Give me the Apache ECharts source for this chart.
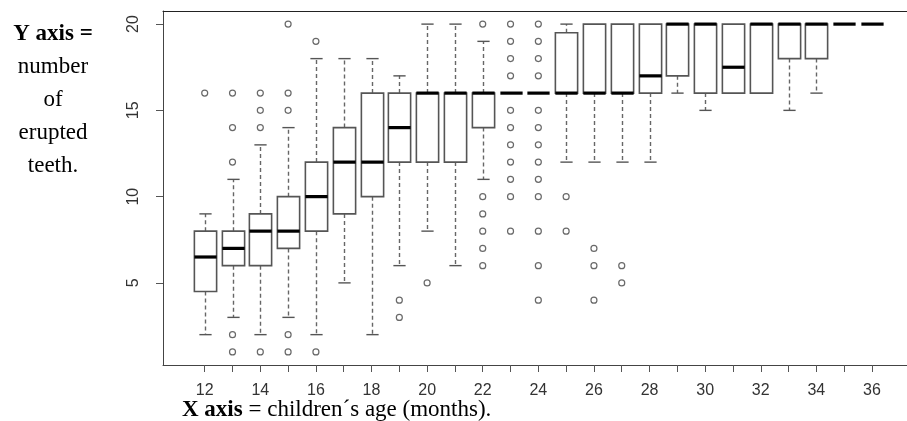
<!DOCTYPE html>
<html>
<head>
<meta charset="utf-8">
<script src="https://cdn.jsdelivr.net/npm/echarts@6/dist/echarts.min.js"></script>
<style>
html,body{margin:0;padding:0;background:#fff;}
#chart{width:907px;height:421px;}
</style>
</head>
<body>
<div id="chart"></div>
<script>
// ---- data ----
const ages = [12,13,14,15,16,17,18,19,20,21,22,23,24,25,26,27,28,29,30,31,32,33,34,35,36];
const whiskerLow  = [2,3,2,3,2,5,2,6,8,6,11,16,16,12,12,12,12,16,15,16,16,15,16,20,20];
const q1          = [4.5,6,6,7,8,9,10,12,12,12,14,16,16,16,16,16,16,17,16,16,16,18,18,20,20];
const median      = [6.5,7,8,8,10,12,12,14,16,16,16,16,16,16,16,16,17,20,20,17.5,20,20,20,20,20];
const q3          = [8,8,9,10,12,14,16,16,16,16,16,16,16,19.5,20,20,20,20,20,20,20,20,20,20,20];
const whiskerHigh = [9,11,13,14,18,18,18,17,20,20,19,16,16,20,20,20,20,20,20,20,20,20,20,20,20];
const outliers = [
  [16],
  [16,14,12,2,1],
  [16,15,14,1],
  [20,16,15,2,1],
  [19,1],
  [],
  [],
  [4,3],
  [5],
  [],
  [20,10,9,8,7,6],
  [20,19,18,17,15,14,13,12,11,10,8],
  [20,19,18,17,15,14,13,12,11,10,8,6,4],
  [10,8],
  [7,6,4],
  [6,5],
  [],[],[],[],[],[],[],[],[]
];
const xTickLabels = [12,14,16,18,20,22,24,26,28,30,32,34,36];
const yTickLabels = [5,10,15,20];

// ---- build series data ----
const boxData = ages.map((a, i) => [a, whiskerLow[i], q1[i], median[i], q3[i], whiskerHigh[i]]);
const outlierData = [];
ages.forEach((a, i) => outliers[i].forEach(v => outlierData.push([a, v])));

const chart = echarts.init(document.getElementById('chart'), null, {renderer: 'canvas'});
const frameColor = '#444';
const labelFont = {fontFamily: 'Liberation Sans, Arial, sans-serif', fontSize: 16, color: '#333'};
const serif = 'Liberation Serif, Times New Roman, serif';

function renderBox(params, api) {
  const x = api.value(0);
  const lo = api.value(1), b1 = api.value(2), md = api.value(3), b3 = api.value(4), hi = api.value(5);
  const w = api.size([1, 0])[0];
  const half = w * 0.4, cap = w * 0.22;
  const P = v => api.coord([x, v]);
  const cx = Math.round(P(md)[0]) + 0.5;
  const yLo = P(lo)[1], y1 = P(b1)[1], ym = P(md)[1], y3 = P(b3)[1], yHi = P(hi)[1];
  const ch = [];
  const dash = {stroke: '#666', lineWidth: 1.4, lineDash: [4, 3]};
  const solid = {stroke: '#555', lineWidth: 1.4};
  if (hi > b3) {
    ch.push({type: 'line', shape: {x1: cx, y1: y3, x2: cx, y2: yHi}, style: dash});
    ch.push({type: 'line', shape: {x1: cx - cap, y1: yHi, x2: cx + cap, y2: yHi}, style: solid});
  }
  if (lo < b1) {
    ch.push({type: 'line', shape: {x1: cx, y1: y1, x2: cx, y2: yLo}, style: dash});
    ch.push({type: 'line', shape: {x1: cx - cap, y1: yLo, x2: cx + cap, y2: yLo}, style: solid});
  }
  if (b3 > b1) {
    ch.push({type: 'rect', shape: {x: cx - half, y: y3, width: 2 * half, height: y1 - y3},
             style: {fill: '#fff', stroke: '#555', lineWidth: 1.6}});
  }
  ch.push({type: 'line', shape: {x1: cx - half, y1: ym, x2: cx + half, y2: ym},
           style: {stroke: '#000', lineWidth: 3.2}});
  return {type: 'group', children: ch};
}

const leftLines = [['Y axis =', true], ['number', false], ['of', false], ['erupted', false], ['teeth.', false]];

const option = {
  animation: false,
  backgroundColor: '#fff',
  grid: {left: 163, top: 11, right: 0, bottom: 56, containLabel: false},
  xAxis: [{
    type: 'value', min: 10.5, max: 37.26, position: 'bottom',
    splitLine: {show: false},
    axisLine: {show: true, onZero: false, lineStyle: {color: frameColor, width: 1}},
    axisTick: {show: true, length: 7, lineStyle: {color: '#555'}, customValues: ages},
    axisLabel: Object.assign({show: true, margin: 18, customValues: xTickLabels}, labelFont)
  }, {
    type: 'value', min: 10.5, max: 37.26, position: 'top',
    splitLine: {show: false},
    axisLine: {show: true, onZero: false, lineStyle: {color: '#222', width: 1}},
    axisTick: {show: false}, axisLabel: {show: false}
  }],
  yAxis: {
    type: 'value', min: 0.24, max: 20.76,
    splitLine: {show: false},
    axisLine: {show: true, onZero: false, lineStyle: {color: frameColor, width: 1}},
    axisTick: {show: true, length: 7, lineStyle: {color: '#555'}, customValues: yTickLabels},
    axisLabel: Object.assign({show: true, rotate: 90, margin: 21, customValues: yTickLabels}, labelFont)
  },
  series: [{
    type: 'custom',
    renderItem: renderBox,
    data: boxData,
    encode: {x: 0, y: [1, 2, 3, 4, 5]},
    clip: false,
    z: 2
  }, {
    type: 'scatter',
    data: outlierData,
    symbol: 'circle',
    symbolSize: 6,
    itemStyle: {color: '#fff', borderColor: '#444', borderWidth: 1.2},
    z: 3
  }],
  graphic: leftLines.map((ln, i) => ({
    type: 'text', silent: true, x: 53, y: 34 + i * 33,
    style: {
      x: 0, y: 0, align: 'center', verticalAlign: 'middle', text: ln[0],
      fontFamily: serif, fontSize: 23, fontWeight: ln[1] ? 'bold' : 'normal', fill: '#000'
    }
  })).concat([{
    type: 'text', silent: true, x: 182, y: 410,
    style: {
      x: 0, y: 0, align: 'left', verticalAlign: 'middle',
      text: '{b|X axis }{n|= children´s age (months).}',
      rich: {
        b: {fontFamily: serif, fontSize: 23, fontWeight: 'bold', fill: '#000'},
        n: {fontFamily: serif, fontSize: 23, fill: '#000'}
      }
    }
  }])
};
chart.setOption(option);
</script>
</body>
</html>
